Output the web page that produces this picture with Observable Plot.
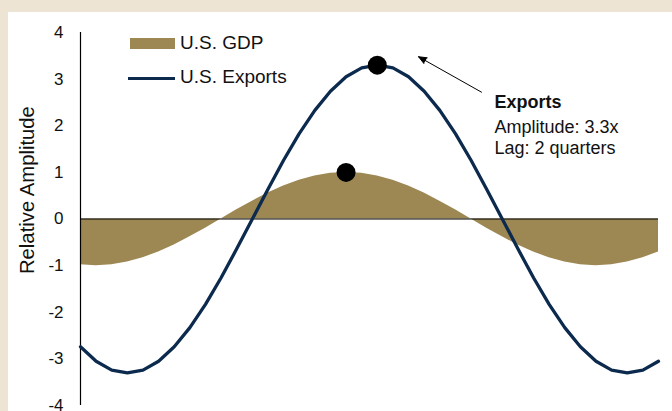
<!DOCTYPE html>
<html>
<head>
<meta charset="utf-8">
<script src="https://cdn.jsdelivr.net/npm/d3@7"></script>
<script src="https://cdn.jsdelivr.net/npm/@observablehq/plot@0.6"></script>
<style>
  html, body { margin: 0; padding: 0; background: #fff; }
  #wrap { position: relative; width: 672px; height: 411px; background: #EEE4D4; overflow: hidden;
          font-family: "Liberation Sans", Arial, sans-serif; }
  #chart { position: absolute; left: 8px; top: 12px; }
  .leg { position: absolute; font-size: 19px; color: #111; line-height: 1; white-space: nowrap; }
</style>
</head>
<body>
<div id="wrap">
  <div id="chart"></div>
  <div id="legend"></div>
</div>
<script>
// Quarter index (x axis)
const quarters = d3.range(0, 38);
// U.S. GDP relative amplitude
const gdp = [-0.98, -1.00, -0.98, -0.92, -0.83, -0.71, -0.56, -0.38, -0.20, 0.00,
              0.20, 0.38, 0.56, 0.71, 0.83, 0.92, 0.98, 1.00, 0.98, 0.92,
              0.83, 0.71, 0.56, 0.38, 0.20, 0.00, -0.20, -0.38, -0.56, -0.71,
             -0.83, -0.92, -0.98, -1.00, -0.98, -0.92, -0.83, -0.71];
// U.S. Exports relative amplitude
const exportsV = [-2.74, -3.05, -3.24, -3.30, -3.24, -3.05, -2.74, -2.33, -1.83, -1.26,
                  -0.64, 0.00, 0.64, 1.26, 1.83, 2.33, 2.74, 3.05, 3.24, 3.30,
                   3.24, 3.05, 2.74, 2.33, 1.83, 1.26, 0.64, 0.00, -0.64, -1.26,
                  -1.83, -2.33, -2.74, -3.05, -3.24, -3.30, -3.24, -3.05];
const yTicks = [-4, -3, -2, -1, 0, 1, 2, 3, 4];
const seriesNames = ["U.S. GDP", "U.S. Exports"];
const yLabel = "Relative Amplitude";
const noteTitle = "Exports";
const noteLines = "Amplitude: 3.3x\nLag: 2 quarters";

const GDP_COLOR = "#9D8854";
const EXP_COLOR = "#0C2A4E";

const data = quarters.map((q, i) => ({q, gdp: gdp[i], exp: exportsV[i]}));
const gdpPeak = data[d3.maxIndex(gdp)];
const expPeak = data[d3.maxIndex(exportsV)];
const peaks = [{q: gdpPeak.q, v: gdpPeak.gdp}, {q: expPeak.q, v: expPeak.exp}];

const FONT = "Liberation Sans, Arial, sans-serif";

const chart = Plot.plot({
  width: 664,
  height: 399,
  marginLeft: 72,
  marginRight: 14,
  marginTop: 20,
  marginBottom: 6,
  style: {background: "white", fontFamily: FONT, fontSize: "17px", color: "#111", overflow: "visible"},
  x: {domain: [0, 37], axis: null},
  y: {domain: [-4, 4], ticks: yTicks, tickSize: 0, tickPadding: 17, label: null, tickFormat: d => String(d).replace("−", "-")},
  marks: [
    Plot.areaY(data, {x: "q", y: "gdp", fill: GDP_COLOR}),
    Plot.ruleY([0], {stroke: "#000", strokeWidth: 1}),
    Plot.ruleX([0], {stroke: "#000", strokeWidth: 1.2}),
    Plot.line(data, {x: "q", y: "exp", stroke: EXP_COLOR, strokeWidth: 3.3}),
    Plot.dot(peaks, {x: "q", y: "v", r: 9.5, fill: "#000"}),
    Plot.arrow([0], {x1: 25.67, y1: 2.72, x2: 21.64, y2: 3.48, stroke: "#000", fill: "#000", strokeWidth: 1, headLength: 13, headAngle: 45}),
    Plot.text([noteTitle], {x: 26.5, y: 2.50, text: d => d, textAnchor: "start", fontWeight: "bold", fontSize: 18, fill: "#111"}),
    Plot.text([noteLines], {x: 26.5, y: 1.77, text: d => d, textAnchor: "start", fontSize: 18, lineHeight: 1.22, fill: "#111"}),
    Plot.text([yLabel], {frameAnchor: "left", y: 0.62, dx: -53, rotate: -90, textAnchor: "middle", text: d => d, fontSize: 20.3, fill: "#111"})
  ]
});
document.getElementById("chart").appendChild(chart);

// Legend (HTML overlay)
const legend = document.getElementById("legend");
legend.innerHTML = `
  <div style="position:absolute;left:130px;top:38px;width:45px;height:11px;background:${GDP_COLOR}"></div>
  <div class="leg" style="left:180px;top:33px;">${seriesNames[0]}</div>
  <div style="position:absolute;left:128px;top:76.5px;width:47px;height:3px;background:${EXP_COLOR}"></div>
  <div class="leg" style="left:180px;top:67px;">${seriesNames[1]}</div>
`;
</script>
</body>
</html>
